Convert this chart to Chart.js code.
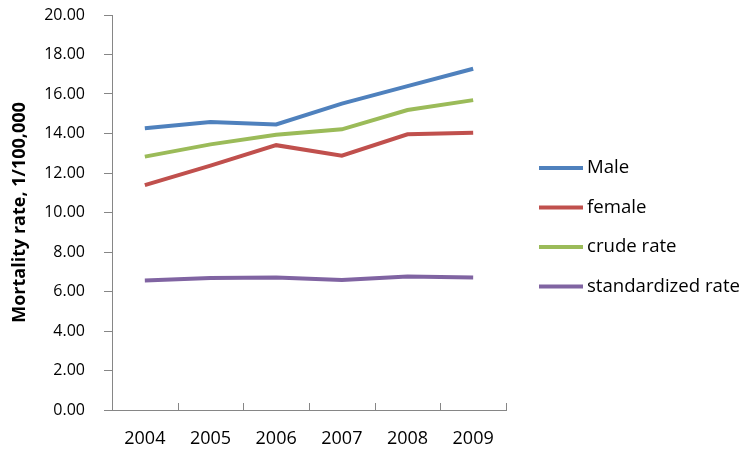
<!DOCTYPE html>
<html>
<head>
<meta charset="utf-8">
<script src="https://cdn.jsdelivr.net/npm/chart.js@4"></script>
<style>
  html, body { margin: 0; padding: 0; background: #fff; }
  #wrap { width: 749px; height: 452px; }
</style>
</head>
<body>
<div id="wrap"><canvas id="mortalityChart" width="749" height="452"></canvas></div>
<script>
// values
const years = ['2004', '2005', '2006', '2007', '2008', '2009'];
const male = [14.26, 14.58, 14.46, 15.51, 16.40, 17.28];
const female = [11.39, 12.37, 13.41, 12.88, 13.96, 14.04];
const crudeRate = [12.83, 13.45, 13.94, 14.21, 15.19, 15.69];
const standardizedRate = [6.56, 6.68, 6.71, 6.58, 6.76, 6.71];
const seriesNames = ['Male', 'female', 'crude rate', 'standardized rate'];
const seriesColors = ['#4F81BD', '#C0504D', '#9BBB59', '#8064A2'];

const axisGrey = '#868686';
const fontFamily = '"Open Sans", "Liberation Sans", sans-serif';

// x ticks in the reference point up into the plot, so draw them here
const inwardTicks = {
    id: 'inwardTicks',
    afterDraw(chart) {
        const xs = chart.scales.x;
        const ctx = chart.ctx;
        const step = (xs.right - xs.left) / years.length;
        ctx.save();
        ctx.strokeStyle = axisGrey;
        ctx.lineWidth = 1;
        for (let i = 1; i <= years.length; i++) {
            const x = Math.round(xs.left + i * step) + 0.5;
            ctx.beginPath();
            ctx.moveTo(x, xs.top);
            ctx.lineTo(x, xs.top - 7);
            ctx.stroke();
        }
        ctx.restore();
    }
};

// legend to the right of the plot, like the spreadsheet one
const sideLegend = {
    id: 'sideLegend',
    afterDraw(chart) {
        const ctx = chart.ctx;
        ctx.save();
        ctx.font = '18.6px ' + fontFamily;
        ctx.textBaseline = 'middle';
        ctx.textAlign = 'left';
        chart.data.datasets.forEach((ds, i) => {
            const y = 168 + i * 39.5;
            ctx.strokeStyle = ds.borderColor;
            ctx.lineWidth = 4;
            ctx.beginPath();
            ctx.moveTo(539, y);
            ctx.lineTo(583, y);
            ctx.stroke();
            ctx.fillStyle = '#000';
            ctx.fillText(ds.label, 587, y);
        });
        ctx.restore();
    }
};

const allValues = [male, female, crudeRate, standardizedRate];

new Chart(document.getElementById('mortalityChart'), {
    type: 'line',
    data: {
        labels: years,
        datasets: allValues.map((vals, i) => ({
            label: seriesNames[i],
            data: vals,
            borderColor: seriesColors[i],
            backgroundColor: seriesColors[i],
            borderWidth: 4,
            pointRadius: 0,
            tension: 0,
            fill: false
        }))
    },
    options: {
        responsive: false,
        animation: false,
        layout: { padding: { left: 0, right: 243, top: 0, bottom: 0 } },
        plugins: {
            legend: { display: false },
            tooltip: { enabled: false }
        },
        scales: {
            x: {
                offset: true,
                afterFit: (scale) => { scale.height = 42; },
                grid: { display: false, drawTicks: false, tickLength: 0 },
                border: { display: true, color: axisGrey, width: 1 },
                ticks: {
                    color: '#000',
                    padding: 18,
                    maxRotation: 0,
                    font: { family: fontFamily, size: 18 }
                }
            },
            y: {
                min: 0,
                max: 20,
                afterFit: (scale) => {
                    scale.width = 112;
                    scale.paddingTop = 15;
                    scale.paddingBottom = 0;
                },
                grid: {
                    drawOnChartArea: false,
                    drawTicks: true,
                    tickLength: 8,
                    color: axisGrey
                },
                border: { display: true, color: axisGrey, width: 1 },
                ticks: {
                    stepSize: 2,
                    color: '#000',
                    padding: 19,
                    font: { family: fontFamily, size: 16 },
                    callback: (v) => Number(v).toFixed(2)
                },
                title: {
                    display: true,
                    text: 'Mortality rate, 1/100,000',
                    color: '#000',
                    padding: { top: 9, bottom: 0 },
                    font: { family: fontFamily, size: 18, weight: 'bold' }
                }
            }
        }
    },
    plugins: [inwardTicks, sideLegend]
});
</script>
</body>
</html>
